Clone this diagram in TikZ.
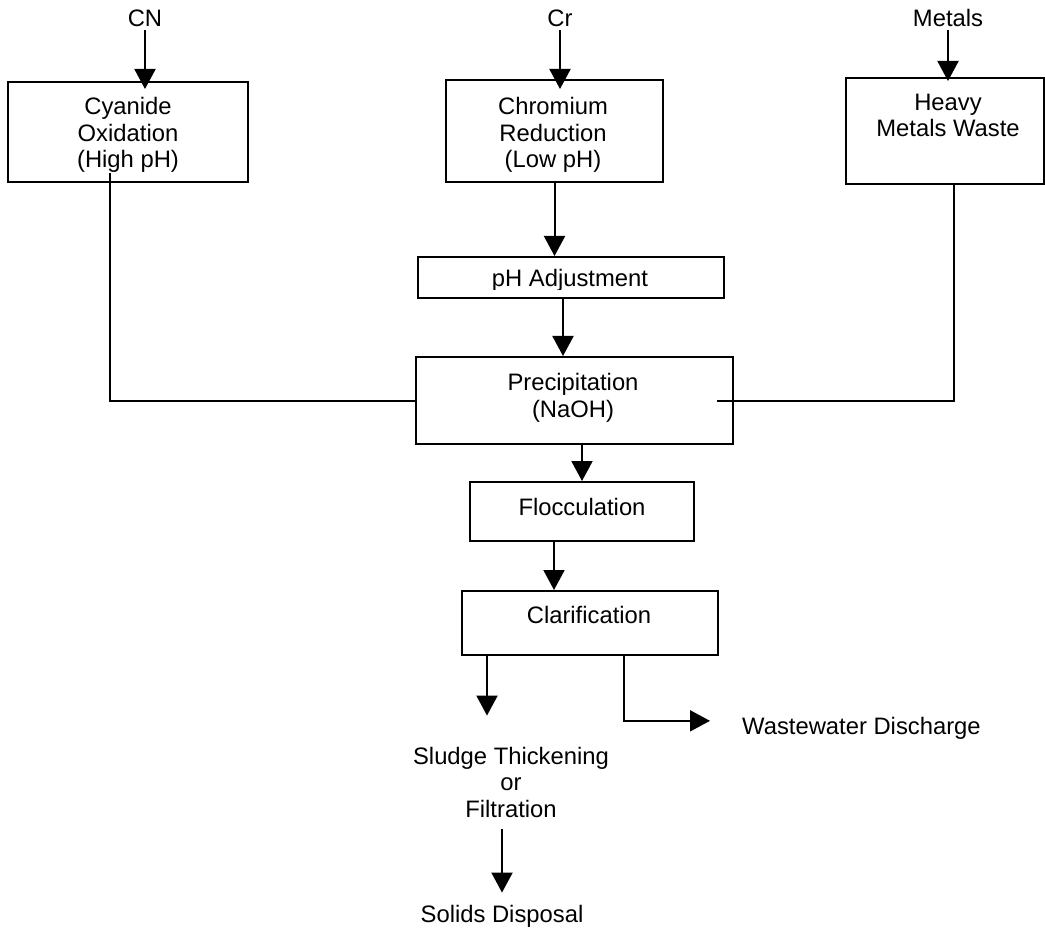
\documentclass[tikz,border=0pt]{standalone}
\usepackage{fontspec}
\setmainfont{Liberation Sans}
\usetikzlibrary{arrows.meta}
\tikzset{>={Triangle[length=20pt,width=21pt]}}
\tikzset{ % boxes, texts and flow lines
  flow/.style={line width=2pt},
  box/.style={draw,line width=2pt,inner sep=0pt},
  txt/.style={font=\fontsize{23.8}{26.5}\selectfont,align=center,inner sep=3pt,anchor=base}
}

\begin{document}
\begin{tikzpicture}[x=1pt,y=-1pt]
\useasboundingbox (0,0) rectangle (1045,928);

% feeds
\node[txt] (cn)  at (145,27) {CN};
\node[txt] (cr)  at (560,27) {Cr};
\node[txt] (met) at (948,27) {Metals};

% boxes
\node[box,minimum width=240pt,minimum height=100pt] (cyan)   at (128,132)     {};
\node[box,minimum width=217pt,minimum height=102pt] (chrom)  at (554.5,131)   {};
\node[box,minimum width=198pt,minimum height=106pt] (heavy)  at (945,131)     {};
\node[box,minimum width=306pt,minimum height=41pt]  (padj)   at (571,277.5)   {};
\node[box,minimum width=317pt,minimum height=87pt]  (precip) at (574.5,400.5) {};
\node[box,minimum width=224pt,minimum height=59pt]  (floc)   at (582,511.5)   {};
\node[box,minimum width=256pt,minimum height=64pt]  (clar)   at (590,623)     {};

% box texts (base = last line)
\begin{scope}
  \clip (cyan.north west) rectangle ([yshift=11pt]cyan.south east);
  \node[txt] (cyantxt) at (128,168) {Cyanide\\Oxidation\\(High pH)};
\end{scope}
\node[txt] (chromtxt) at (553,168) {Chromium\\Reduction\\(Low pH)};
\node[txt] (heavytxt) at (948,137) {Heavy\\Metals Waste};
\begin{scope}
  \clip (padj.north west) rectangle ([yshift=9pt]padj.south east);
  \node[txt] (padjtxt) at (570,287) {pH Adjustment};
\end{scope}
\node[txt] (preciptxt) at (573,417) {Precipitation\\(NaOH)};
\node[txt] (floctxt)   at (582,515) {Flocculation};
\node[txt] (clartxt)   at (589,623) {Clarification};

% outlets
\node[txt] (sludge) at (511,817) {Sludge Thickening\\or\\Filtration};
\node[txt] (solids) at (502,922) {Solids Disposal};
\node[txt,anchor=base west] (waste) at (739,734) {Wastewater Discharge};

% connections
\draw[flow,->,shorten >=-8pt]  (cn.south)  -- (cn.south |- cyan.north);
\draw[flow,->,shorten >=-10pt] (cr.south)  -- (cr.south |- chrom.north);
\draw[flow,->,shorten >=-4pt]  (met.south) -- (met.south |- heavy.north);
\draw[flow,->] (chrom.south) -- (chrom.south |- padj.north);
\draw[flow,->] ([xshift=-8pt]padj.south) -- ([xshift=-8pt]padj.south |- precip.north);
\draw[flow] ([xshift=-18pt,yshift=10pt]cyan.south) |- (precip.west);
\draw[flow] ([xshift=9pt]heavy.south) |- ([xshift=-17pt]precip.east);
\draw[flow,->] (floc.north |- precip.south) -- (floc.north);
\draw[flow,->] ([xshift=-28pt]floc.south) -- ([xshift=-28pt]floc.south |- clar.north);
\draw[flow,->,shorten >=28pt] ([xshift=26pt]clar.south west) -- ([xshift=26pt]clar.south west |- sludge.north);
\draw[flow,->,shorten >=29pt] ([xshift=34pt]clar.south) |- ([yshift=7pt]waste.west);
\draw[flow,->,shorten <=9pt,shorten >=9pt] (solids.north |- sludge.south) -- (solids.north);
\end{tikzpicture}
\end{document}
